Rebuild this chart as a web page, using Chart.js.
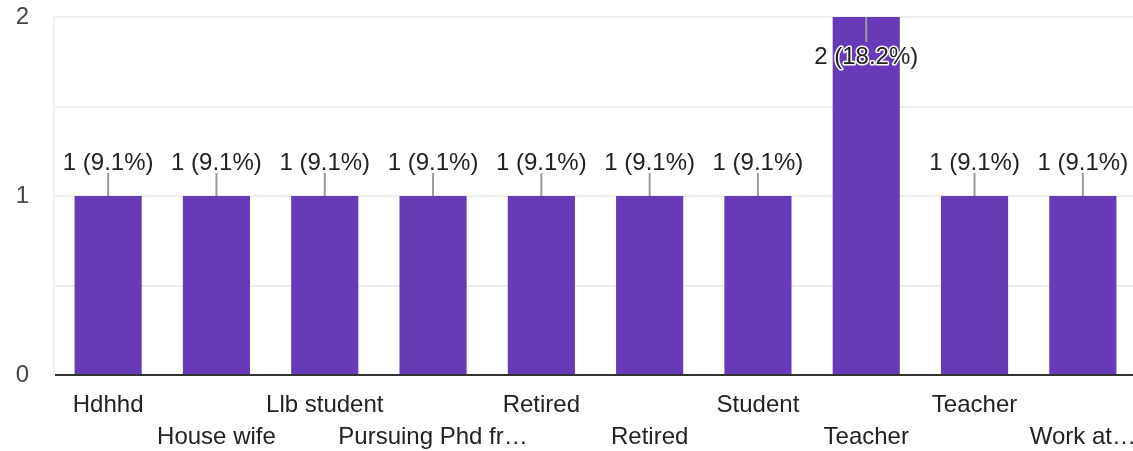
<!DOCTYPE html>
<html>
<head>
<meta charset="utf-8">
<script src="https://cdn.jsdelivr.net/npm/chart.js@4.4.0/dist/chart.umd.min.js"></script>
<style>
  html, body { margin: 0; padding: 0; background: #fff; overflow: hidden; }
  #wrap { width: 1137px; height: 451px; position: relative; }
</style>
</head>
<body>
<div id="wrap"><canvas id="mycanvas"></canvas></div>
<script>
// answers as shown on the x axis (long ones already cut off in the source)
var categories = ['Hdhhd', 'House wife', 'Llb student', 'Pursuing Phd fr\u2026', 'Retired',
	'Retired', 'Student', 'Teacher', 'Teacher', 'Work at\u2026'];
var counts = [1, 1, 1, 1, 1, 1, 1, 2, 1, 1];
var total = 11;
var yTicks = [0, 1, 2];

var FONT = "'Liberation Sans', Arial, sans-serif";

// value labels with a small leader line, like the forms summary charts
var valueLabels = {
	id: 'valueLabels',
	afterDatasetsDraw: function(chart) {
		var ctx = chart.ctx;
		var meta = chart.getDatasetMeta(0);
		var area = chart.chartArea;
		ctx.save();
		ctx.font = '24px ' + FONT;
		ctx.textAlign = 'center';
		ctx.textBaseline = 'middle';
		meta.data.forEach(function(bar, i) {
			var v = counts[i];
			var text = v + ' (' + (v / total * 100).toFixed(1) + '%)';
			var top = bar.y;
			var inside = top - 47 < area.top;
			ctx.strokeStyle = '#999';
			ctx.lineWidth = 2;
			ctx.beginPath();
			if (inside) {
				ctx.moveTo(bar.x, top);
				ctx.lineTo(bar.x, top + 25);
			} else {
				ctx.moveTo(bar.x, top);
				ctx.lineTo(bar.x, top - 23);
			}
			ctx.stroke();
			var ty = inside ? top + 40 : top - 33;
			if (inside) {
				ctx.lineWidth = 3;
				ctx.strokeStyle = '#fff';
				ctx.lineJoin = 'round';
				ctx.strokeText(text, bar.x, ty);
			}
			ctx.fillStyle = '#222';
			ctx.fillText(text, bar.x, ty);
		});
		ctx.restore();
	}
};

var chartdata = {
	labels: categories,
	datasets: [
		{
			label: 'count',
			backgroundColor: '#673ab7',
			hoverBackgroundColor: '#673ab7',
			borderWidth: 0,
			barPercentage: 0.62,
			categoryPercentage: 1,
			data: counts
		}
	]
};

var ctx = document.getElementById('mycanvas');

var barGraph = new Chart(ctx, {
	type: 'bar',
	data: chartdata,
	plugins: [valueLabels],
	options: {
		responsive: true,
		maintainAspectRatio: false,
		animation: false,
		layout: { padding: { top: 17, right: 0, left: 0, bottom: 0 } },
		plugins: {
			legend: { display: false },
			tooltip: { enabled: false }
		},
		scales: {
			x: {
				z: 1,
				afterFit: function(scale) {
					scale.height = 76;
					scale.paddingLeft = 0;
					scale.paddingRight = 0;
				},
				grid: { display: false, drawTicks: false },
				border: { display: true, color: '#333', width: 2 },
				ticks: {
					autoSkip: false,
					maxRotation: 0,
					minRotation: 0,
					padding: 14,
					color: '#222',
					font: { family: FONT, size: 24, lineHeight: 1.333 },
					callback: function(value, index) {
						var lab = categories[index];
						return index % 2 === 1 ? ['', lab] : lab;
					}
				}
			},
			y: {
				min: 0,
				max: 2,
				afterFit: function(scale) {
					scale.width = 54;
					scale.paddingTop = 0;
					scale.paddingBottom = 0;
				},
				grid: {
					drawTicks: false,
					color: '#eeeeee',
					lineWidth: 2
				},
				border: { display: true, color: '#eeeeee', width: 2 },
				ticks: {
					stepSize: 0.5,
					padding: 25,
					color: '#444',
					font: { family: FONT, size: 24, lineHeight: 1.333 },
					callback: function(value) {
						return yTicks.indexOf(value) >= 0 ? value : '';
					}
				}
			}
		}
	}
});
</script>
</body>
</html>
